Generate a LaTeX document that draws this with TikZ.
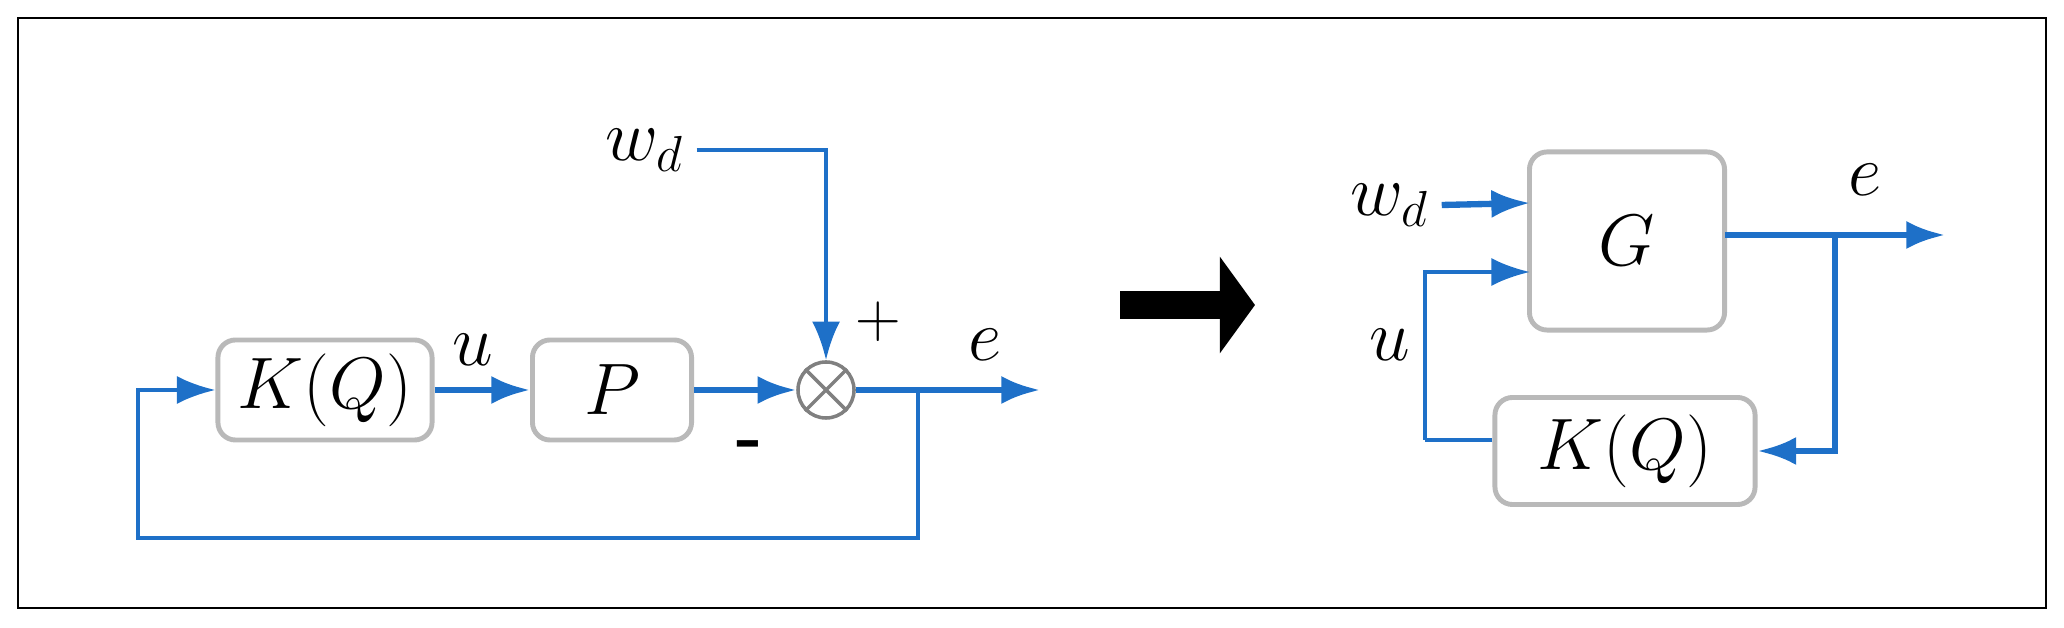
\documentclass[tikz,border=0pt]{standalone}
\usetikzlibrary{arrows.meta}
\definecolor{bl}{RGB}{30,112,200}
\begin{document}
\begin{tikzpicture}[x=0.01cm,y=-0.01cm,
 blk/.style={draw=gray!55,line width=1.4pt,rounded corners=5pt,fill=white,font=\fontsize{20}{24}\selectfont,inner sep=0},
 ln/.style={draw=bl,line width=1.2pt},
 ar/.style={ln,-{Latex[length=11pt,width=8pt]}},
 th/.style={line width=1.8pt},
 lab/.style={font=\fontsize{20}{24}\selectfont}]
\useasboundingbox (0,0) rectangle (2064,628);
\draw[line width=0.7pt] (18,18) rectangle (2046,608);
% left
\node[blk,minimum width=2.14cm,minimum height=1cm] (k) at (325,390) {$K(Q)$};
\node[blk,minimum width=1.59cm,minimum height=1cm] (p) at (612,390) {$P$};
\node[draw=gray,line width=1pt,circle,minimum size=0.56cm,inner sep=0] (s2) at (826,390) {};
\draw[gray,line width=1pt] (s2.north east) -- (s2.south west) (s2.north west) -- (s2.south east);
\coordinate (o) at (1040,390);
\coordinate (f) at (918,390);
\coordinate (fl) at (138,538);
\node[lab] (w) at (645,150) {$w_d$};
\coordinate (wc) at (826,150);
\draw[ar,th] (k) -- (p);
\draw[ar,th] (p) -- (s2);
\draw[ar,th] (s2) -- (o);
\draw[ar] (w.east) -- (wc) -- (s2.north);
\draw[ar] (f) |- (fl) |- (k.west);
\node[lab] at (473,350) {$u$};
\node[lab] at (985,345) {$e$};
\node[font=\fontsize{18}{21}\selectfont] at (878,322) {+};
\node[font=\bfseries\fontsize{20}{24}\selectfont] at (750,450) {-};
% big arrow
\coordinate (ba) at (1120,305);
\coordinate (bb) at (1255,305);
\draw[line width=8pt,-{Triangle[length=10pt,width=27pt]}] (ba) -- (bb);
% right
\node[blk,minimum width=1.95cm,minimum height=1.78cm] (g) at (1627,241) {$G$};
\node[blk,minimum width=2.6cm,minimum height=1.07cm] (k2) at (1625,451) {$K(Q)$};
\node[lab] (w2) at (1390,205) {$w_d$};
\draw[ar,th] (w2.east) -- (1530,203);
\coordinate (uc) at (1425,440);
\draw[ln] (k2.west |- uc) -- (uc);
\draw[ar] (uc) |- (1530,272);
\node[lab] at (1390,345) {$u$};
\node[lab] at (1865,180) {$e$};
\coordinate (e2) at (1945,235);
\coordinate (fb) at (1835,235);
\draw[ar,th] (1725,235) -- (e2);
\draw[ar,th] (fb) |- (k2.east);
\end{tikzpicture}
\end{document}
